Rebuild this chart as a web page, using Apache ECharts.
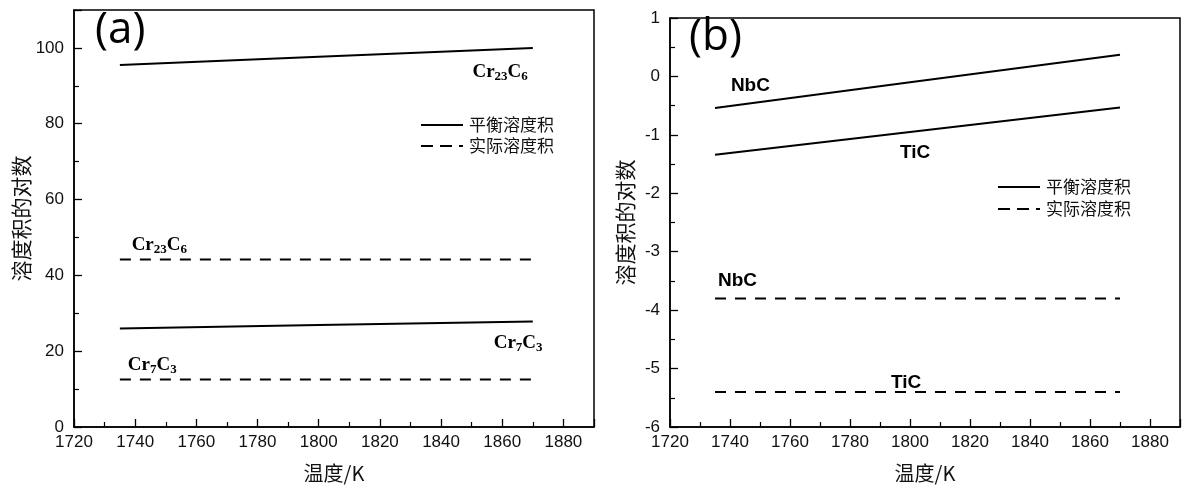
<!DOCTYPE html>
<html><head><meta charset="utf-8">
<script src="https://cdn.jsdelivr.net/npm/echarts@6/dist/echarts.min.js"></script>
<style>html,body{margin:0;padding:0;background:#fff}#c{width:1183px;height:488px}</style>
</head><body><div id="c"></div>
<script>
// Panel (a)
const tempA = [1735, 1800, 1870];
const cr23c6Eq = [95.5, 97.7, 100.0];
const cr7c3Eq = [26.0, 26.9, 27.8];
const cr23c6Act = [44.2, 44.2, 44.2];
const cr7c3Act = [12.5, 12.5, 12.5];
// Panel (b)
const tempB = [1735, 1800, 1870];
const nbcEq = [-0.54, -0.10, 0.37];
const ticEq = [-1.34, -0.95, -0.53];
const nbcAct = [-3.80, -3.80, -3.80];
const ticAct = [-5.40, -5.40, -5.40];
// annotation anchors (data coords)
const labelsA = [
  {x: 1859.3, y: 93.7, sub: ['23', '6']},
  {x: 1747.9, y: 48.0, sub: ['23', '6']},
  {x: 1865.2, y: 22.2, sub: ['7', '3']},
  {x: 1745.6, y: 16.4, sub: ['7', '3']}
];
const labelsB = [
  {x: 1746.8, y: -0.16, t: 'NbC'},
  {x: 1801.7, y: -1.30, t: 'TiC'},
  {x: 1742.5, y: -3.49, t: 'NbC'},
  {x: 1798.7, y: -5.25, t: 'TiC'}
];
const legendNames = ['平衡溶度积', '实际溶度积'];

const zip = (xs, ys) => xs.map((x, i) => [x, ys[i]]);
const chart = echarts.init(document.getElementById('c'));
const tickFont = {fontFamily: 'Liberation Sans', fontSize: 17, color: '#111'};
function xAx(gi) {
  return {type: 'value', gridIndex: gi, min: 1720, max: 1890, interval: 20,
    name: '温度/K', nameLocation: 'middle', nameGap: 36,
    nameTextStyle: {fontFamily: 'Noto Sans CJK SC', fontSize: 20, color: '#111'},
    axisLine: {show: true, onZero: false, lineStyle: {color: '#000', width: 1.5}},
    axisTick: {show: true, inside: true, length: 8, lineStyle: {color: '#000', width: 1.3}},
    minorTick: {show: true, splitNumber: 2, length: 5, lineStyle: {color: '#000', width: 1.2}},
    axisLabel: Object.assign({margin: 7, formatter: v => (v < 1890 ? String(v) : '')}, tickFont),
    splitLine: {show: false}};
}
function yAx(gi, min, max, iv, gap, showMax) {
  return {type: 'value', gridIndex: gi, min: min, max: max, interval: iv,
    name: '溶度积的对数', nameLocation: 'middle', nameGap: gap, nameRotate: 90,
    nameTextStyle: {fontFamily: 'Noto Sans CJK SC', fontSize: 21, color: '#111'},
    axisLine: {show: true, onZero: false, lineStyle: {color: '#000', width: 1.5}},
    axisTick: {show: true, inside: true, length: 8, lineStyle: {color: '#000', width: 1.3}},
    minorTick: {show: true, splitNumber: 2, length: 5, lineStyle: {color: '#000', width: 1.2}},
    axisLabel: Object.assign({margin: 10,
      formatter: v => ((v < max - 1e-9 || showMax) ? String(v) : '')}, tickFont),
    splitLine: {show: false}};
}
function line(gi, xs, ys, dashed) {
  return {type: 'line', xAxisIndex: gi, yAxisIndex: gi, data: zip(xs, ys), symbol: 'none',
    silent: true, animation: false,
    lineStyle: {color: '#000', width: 2, type: dashed ? [11, 9] : 'solid'}};
}
const noStroke = {textBorderWidth: 0, textBorderColor: 'transparent', textShadowBlur: 0};
const richA = {
  m: Object.assign({fontFamily: 'Liberation Serif', fontWeight: 'bold', fontSize: 19, color: '#000'}, noStroke),
  s: Object.assign({fontFamily: 'Liberation Serif', fontWeight: 'bold', fontSize: 13, color: '#000', padding: [10, 0, 0, 0]}, noStroke)
};
function lblSeries(gi, arr, fmt, rich, font) {
  return {type: 'scatter', xAxisIndex: gi, yAxisIndex: gi, symbolSize: 0, silent: true, animation: false,
    itemStyle: {color: '#000', opacity: 1},
    data: arr.map(a => ({value: [a.x, a.y], label: {show: true, formatter: fmt(a)}})),
    label: Object.assign({show: true, position: [0, 0], align: 'center', verticalAlign: 'middle',
      rich: rich, color: '#000'}, noStroke, font || {})};
}
function legendGfx(x0, y0, y1) {
  const out = [];
  [[y0, false], [y1, true]].forEach(([y, d], i) => {
    out.push({type: 'line', shape: {x1: x0, y1: y, x2: x0 + 42, y2: y},
      style: {stroke: '#000', lineWidth: 2, lineDash: d ? [12, 7] : null}});
    out.push({type: 'text', x: x0 + 48, y: y, style: {text: legendNames[i], fill: '#111',
      font: '17px "Noto Sans CJK SC"', verticalAlign: 'middle'}});
  });
  return out;
}
chart.setOption({
  animation: false,
  grid: [
    {left: 74, top: 10, width: 520, height: 417, show: true, borderColor: '#000', borderWidth: 1.5},
    {left: 670, top: 18, width: 511, height: 410, show: true, borderColor: '#000', borderWidth: 1.5}
  ],
  xAxis: [xAx(0), xAx(1)],
  yAxis: [yAx(0, 0, 110, 20, 42, false), yAx(1, -6, 1, 1, 34, true)],
  series: [
    line(0, tempA, cr23c6Eq, false), line(0, tempA, cr7c3Eq, false),
    line(0, tempA, cr23c6Act, true), line(0, tempA, cr7c3Act, true),
    line(1, tempB, nbcEq, false), line(1, tempB, ticEq, false),
    line(1, tempB, nbcAct, true), line(1, tempB, ticAct, true),
    lblSeries(0, labelsA, a => '{m|Cr}{s|' + a.sub[0] + '}{m|C}{s|' + a.sub[1] + '}', richA),
    lblSeries(1, labelsB, a => a.t, {}, {fontFamily: 'Liberation Sans', fontWeight: 'bold', fontSize: 19})
  ],
  graphic: [
    {type: 'text', x: 95, y: 8, style: {text: '(a)', font: '44px "Open Sans"', fill: '#000'}},
    {type: 'text', x: 689, y: 15, style: {text: '(b)', font: '44px "Open Sans"', fill: '#000'}}
  ].concat(legendGfx(421, 125, 146), legendGfx(998, 187, 209))
});
</script></body></html>
